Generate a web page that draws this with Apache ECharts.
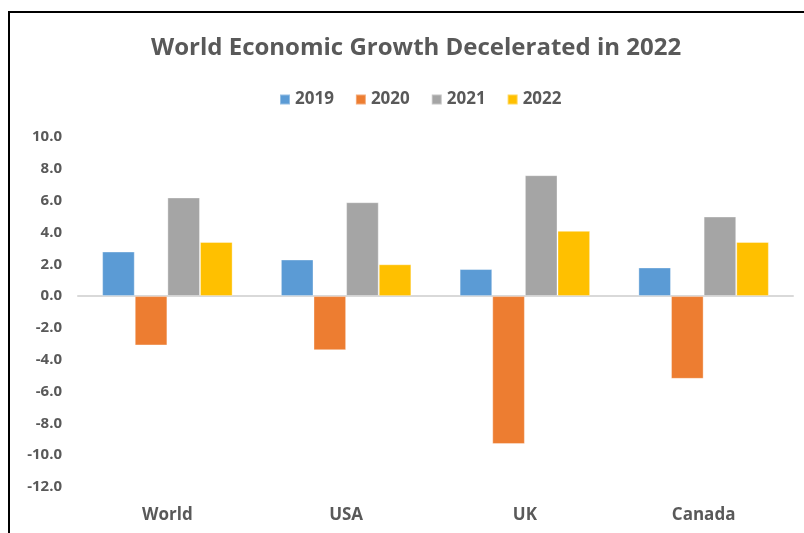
<!DOCTYPE html>
<html>
<head>
<meta charset="utf-8">
<style>
  html, body { margin: 0; padding: 0; background: #ffffff; }
  #chart { width: 804px; height: 533px; }
</style>
<script src="https://cdn.jsdelivr.net/npm/echarts@6/dist/echarts.min.js"></script>
</head>
<body>
<div id="chart"></div>
<script>
// Real GDP growth (%) by economy and year
const regions = ['World', 'USA', 'UK', 'Canada'];
const years = ['2019', '2020', '2021', '2022'];
const growth2019 = [2.8, 2.3, 1.7, 1.8];
const growth2020 = [-3.1, -3.4, -9.3, -5.2];
const growth2021 = [6.2, 5.9, 7.6, 5.0];
const growth2022 = [3.4, 2.0, 4.1, 3.4];
const yTicks = [-12, -10, -8, -6, -4, -2, 0, 2, 4, 6, 8, 10];

const palette = ['#5B9BD5', '#ED7D31', '#A5A5A5', '#FFC000'];
const seriesValues = [growth2019, growth2020, growth2021, growth2022];
const textGray = '#595959';
const fontFamily = '"Open Sans", "Noto Sans", sans-serif';

const chart = echarts.init(document.getElementById('chart'), null, { renderer: 'canvas' });

chart.setOption({
  backgroundColor: '#ffffff',
  animation: false,
  color: palette,
  title: {
    text: 'World Economic Growth Decelerated in 2022',
    left: 146,
    top: 31,
    textStyle: { fontFamily, fontSize: 24, fontWeight: 700, color: textGray }
  },
  legend: {
    data: years,
    top: 86,
    left: 274,
    itemWidth: 10,
    itemHeight: 10,
    itemGap: 21,
    icon: 'rect',
    textStyle: { fontFamily, fontSize: 17, fontWeight: 700, color: textGray }
  },
  grid: { left: 78, right: 11, top: 137, bottom: 46, containLabel: false },
  xAxis: {
    type: 'category',
    data: regions,
    axisLine: { onZero: true, lineStyle: { color: '#D9D9D9', width: 2 } },
    axisTick: { show: false },
    axisLabel: { show: false }
  },
  yAxis: {
    type: 'value',
    min: yTicks[0],
    max: yTicks[yTicks.length - 1],
    interval: 2,
    axisLine: { show: false },
    axisTick: { show: false },
    splitLine: { show: false },
    axisLabel: { fontFamily, fontSize: 15, fontWeight: 700, color: textGray, margin: 16,
      formatter: v => v.toFixed(1) }
  },
  series: years.map((y, i) => ({
    name: y,
    type: 'bar',
    data: seriesValues[i],
    barGap: '0%',
    barCategoryGap: '27%',
    itemStyle: { color: palette[i], borderColor: 'rgba(255,255,255,0.35)', borderWidth: 1 }
  }))
});

// Chart frame (left and top edges) plus category labels below the plot floor
const frame = [
  { type: 'line', silent: true, shape: { x1: 9, y1: 12, x2: 9, y2: 533 }, style: { stroke: '#000', lineWidth: 2 } },
  { type: 'line', silent: true, shape: { x1: 8, y1: 12, x2: 804, y2: 12 }, style: { stroke: '#000', lineWidth: 2 } }
];
const categoryLabels = regions.map(r => ({
  type: 'text',
  silent: true,
  style: {
    text: r,
    x: chart.convertToPixel({ xAxisIndex: 0 }, r),
    y: chart.convertToPixel({ yAxisIndex: 0 }, yTicks[0]) + 28,
    textAlign: 'center',
    textVerticalAlign: 'middle',
    font: '700 17px ' + fontFamily,
    fill: textGray
  }
}));
chart.setOption({ graphic: frame.concat(categoryLabels) });
</script>
</body>
</html>
